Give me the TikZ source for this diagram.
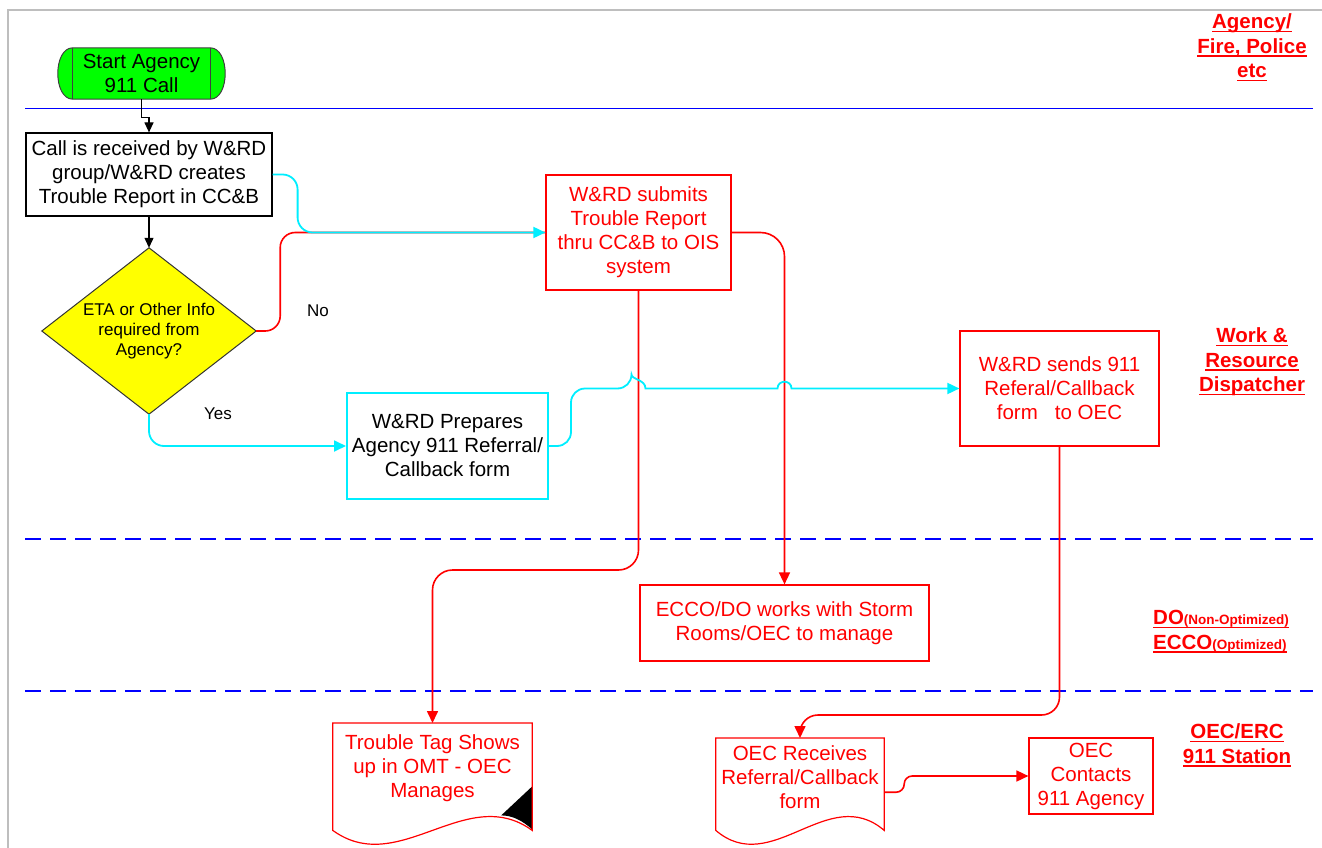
\documentclass[tikz,border=0pt]{standalone}
\usepackage{fontspec}
\setmainfont{Liberation Sans}
\usetikzlibrary{arrows.meta,calc}

% underline drawn as a rule below the text
\newsavebox\ulbox
\newcommand\ulx[1]{\sbox\ulbox{#1}\rlap{\rule[-3.5pt]{\wd\ulbox}{1.6pt}}\usebox\ulbox}

\definecolor{fcred}{RGB}{255,0,0}
\definecolor{fccyan}{RGB}{0,238,255}
\definecolor{fcgreen}{RGB}{0,255,0}
\definecolor{fcyellow}{RGB}{255,255,0}
\definecolor{fcblue}{RGB}{0,0,255}
\definecolor{fcframe}{RGB}{190,190,190}

\begin{document}
\begin{tikzpicture}[x=1pt,y=-1pt,
  every node/.style={font=\fontsize{20.5}{24}\selectfont, align=center, inner sep=0pt},
  blkbox/.style={draw=black, line width=1.2pt},
  cyanbox/.style={draw=fccyan, line width=2pt},
  redbox/.style={draw=fcred, text=fcred, line width=1.2pt},
  shapeonly/.style={draw=none},
  redtxt/.style={text=fcred},
  smalltxt/.style={font=\fontsize{17}{20}\selectfont},
  lanelbl/.style={text=fcred, font=\bfseries\fontsize{20.5}{24.5}\selectfont},
  tipB/.style={-{Triangle[length=10pt,width=9pt]}},
  tip/.style={-{Triangle[length=12pt,width=11pt]}},
  blkline/.style={draw=black, line width=1.2pt},
  redline/.style={draw=fcred, line width=1.6pt},
  cyanline/.style={draw=fccyan, line width=1.8pt},
  laneline/.style={draw=fcblue, line width=2pt, dash pattern=on 16pt off 9pt},
]
\useasboundingbox (0,0) rectangle (1322,848);

% page frame and lane separators
\draw[fcframe, line width=1.5pt] (8,848) -- (8,10) -- (1322,10);
\draw[fcblue, line width=1pt] (25,109) -- (1313,109);
\draw[laneline] (25,539) -- (1313,539);
\draw[laneline] (25,691) -- (1313,691);

% lane titles
\node[lanelbl] (laneA) at (1252,47.5) {\ulx{Agency/}\\\ulx{Fire, Police}\\\ulx{etc}};
\node[lanelbl] (laneW) at (1252,362) {\ulx{Work \&}\\\ulx{Resource}\\\ulx{Dispatcher}};
\node[lanelbl, align=left, anchor=west] (laneD) at (1153,631.5)
  {\ulx{DO{\fontsize{13.5}{14}\selectfont(Non-Optimized)}}\\\ulx{ECCO{\fontsize{13.5}{14}\selectfont(Optimized)}}};
\node[lanelbl] (laneO) at (1237,745.5) {\ulx{OEC/ERC}\\\ulx{911 Station}};

% start terminator
\node[shapeonly, minimum width=137, minimum height=51] (start) at (141.5,73.5) {};
\draw[line width=1pt, draw=black!75, fill=fcgreen] (start.north west) -- (start.north east)
  .. controls ($(start.north east)+(20,0)$) and ($(start.south east)+(20,0)$) .. (start.south east)
  -- (start.south west)
  .. controls ($(start.south west)+(-20,0)$) and ($(start.north west)+(-20,0)$) .. cycle;
\draw[line width=1pt, black!75] (start.north west) -- (start.south west)
  (start.north east) -- (start.south east);
\node at (start) {Start Agency\\911 Call};

% process boxes
\node[blkbox, minimum width=246, minimum height=83] (call) at (149,174.5)
  {Call is received by W\&RD\\group/W\&RD creates\\Trouble Report in CC\&B};
\node[redbox, minimum width=185, minimum height=115] (sub) at (638.5,232.5)
  {W\&RD submits\\Trouble Report\\thru CC\&B to OIS\\system};
\node[cyanbox, minimum width=201, minimum height=106] (prep) at (447.5,446)
  {W\&RD Prepares\\Agency 911 Referral/\\Callback form};
\node[redbox, minimum width=199, minimum height=115] (send) at (1059.5,388.5)
  {W\&RD sends 911\\Referal/Callback\\form \ \ to OEC};
\node[redbox, minimum width=289, minimum height=76] (ecco) at (784.5,623)
  {ECCO/DO works with Storm\\Rooms/OEC to manage};
\node[redbox, minimum width=124, minimum height=76] (oec) at (1091,776)
  {OEC\\Contacts\\911 Agency};

% decision
\node[shapeonly, minimum width=214, minimum height=166] (dec) at (149,331) {};
\draw[fill=fcyellow, draw=black!80, line width=1pt] (dec.north) -- (dec.east) -- (dec.south) -- (dec.west) -- cycle;
\node[smalltxt] at (dec) {ETA or Other Info\\required from\\Agency?};

% document shapes
\node[shapeonly, minimum width=199, minimum height=123, anchor=north] (tag) at (432.5,723) {};
\fill[black] ($(tag.south east)+(0,-60)$) -- ($(tag.south east)+(0,-17)$)
  .. controls ($(tag.south east)+(-10,-26)$) and ($(tag.south east)+(-20,-31)$) .. ($(tag.south east)+(-31,-31)$) -- cycle;
\draw[fcred, line width=1.2pt] (tag.north west) -- (tag.north east) -- ($(tag.south east)+(0,-16)$)
  .. controls ($(tag.south east)+(-66,-64)$) and ($(tag.south west)+(66,32)$) .. ($(tag.south west)+(0,-16)$) -- cycle;
\node[redtxt] at ($(tag.north)+(0,45)$) {Trouble Tag Shows\\up in OMT - OEC\\Manages};

\node[shapeonly, minimum width=168, minimum height=108, anchor=north] (recv) at (800,738) {};
\draw[fcred, line width=1.2pt] (recv.north west) -- (recv.north east) -- ($(recv.south east)+(0,-16)$)
  .. controls ($(recv.south east)+(-56,-64)$) and ($(recv.south west)+(56,32)$) .. ($(recv.south west)+(0,-16)$) -- cycle;
\node[redtxt] at ($(recv.north)+(0,39)$) {OEC Receives\\Referral/Callback\\form};

% branch labels
\node[smalltxt] (lblNo) at (318,311) {No};
\node[smalltxt] (lblYes) at (218,414) {Yes};

% connectors
\draw[blkline, tipB] (start.south) -- ++(0,18) -| (call.north);
\draw[blkline, tipB] (call.south) -- (dec.north);

\draw[redline, rounded corners=15pt] (dec.east) -- ++(24,0) |- (sub.west);
\draw[cyanline, tip, rounded corners=15pt] (call.east) -- ++(25,0) |- (sub.west);
\draw[cyanline, tip, rounded corners=15pt] (dec.south) |- (prep.west);

\draw[redline, tip, rounded corners=24pt] (sub.east) -| (ecco.north);
\draw[redline, tip, rounded corners=20pt] (sub.south) -- (sub.south |- 0,570) -| (tag.north);

\coordinate (h1) at (sub.south |- send.west);
\coordinate (h2) at (ecco.north |- send.west);
\draw[cyanline, tip, rounded corners=14pt] (prep.east) -- ++(22,0) |- ($(h1)+(-7,0)$)
  [sharp corners] .. controls ($(h1)+(-7,-9)$) and ($(h1)+(7,-9)$) .. ($(h1)+(7,0)$)
  -- ($(h2)+(-7,0)$) .. controls ($(h2)+(-7,-9)$) and ($(h2)+(7,-9)$) .. ($(h2)+(7,0)$)
  -- (send.west);

\draw[redline, tip, rounded corners=18pt] (send.south) -- (send.south |- 0,715) -| (recv.north);
\draw[redline, tip, rounded corners=8pt] (recv.east) -- ++(20,0) |- (oec.west);

\end{tikzpicture}
\end{document}
